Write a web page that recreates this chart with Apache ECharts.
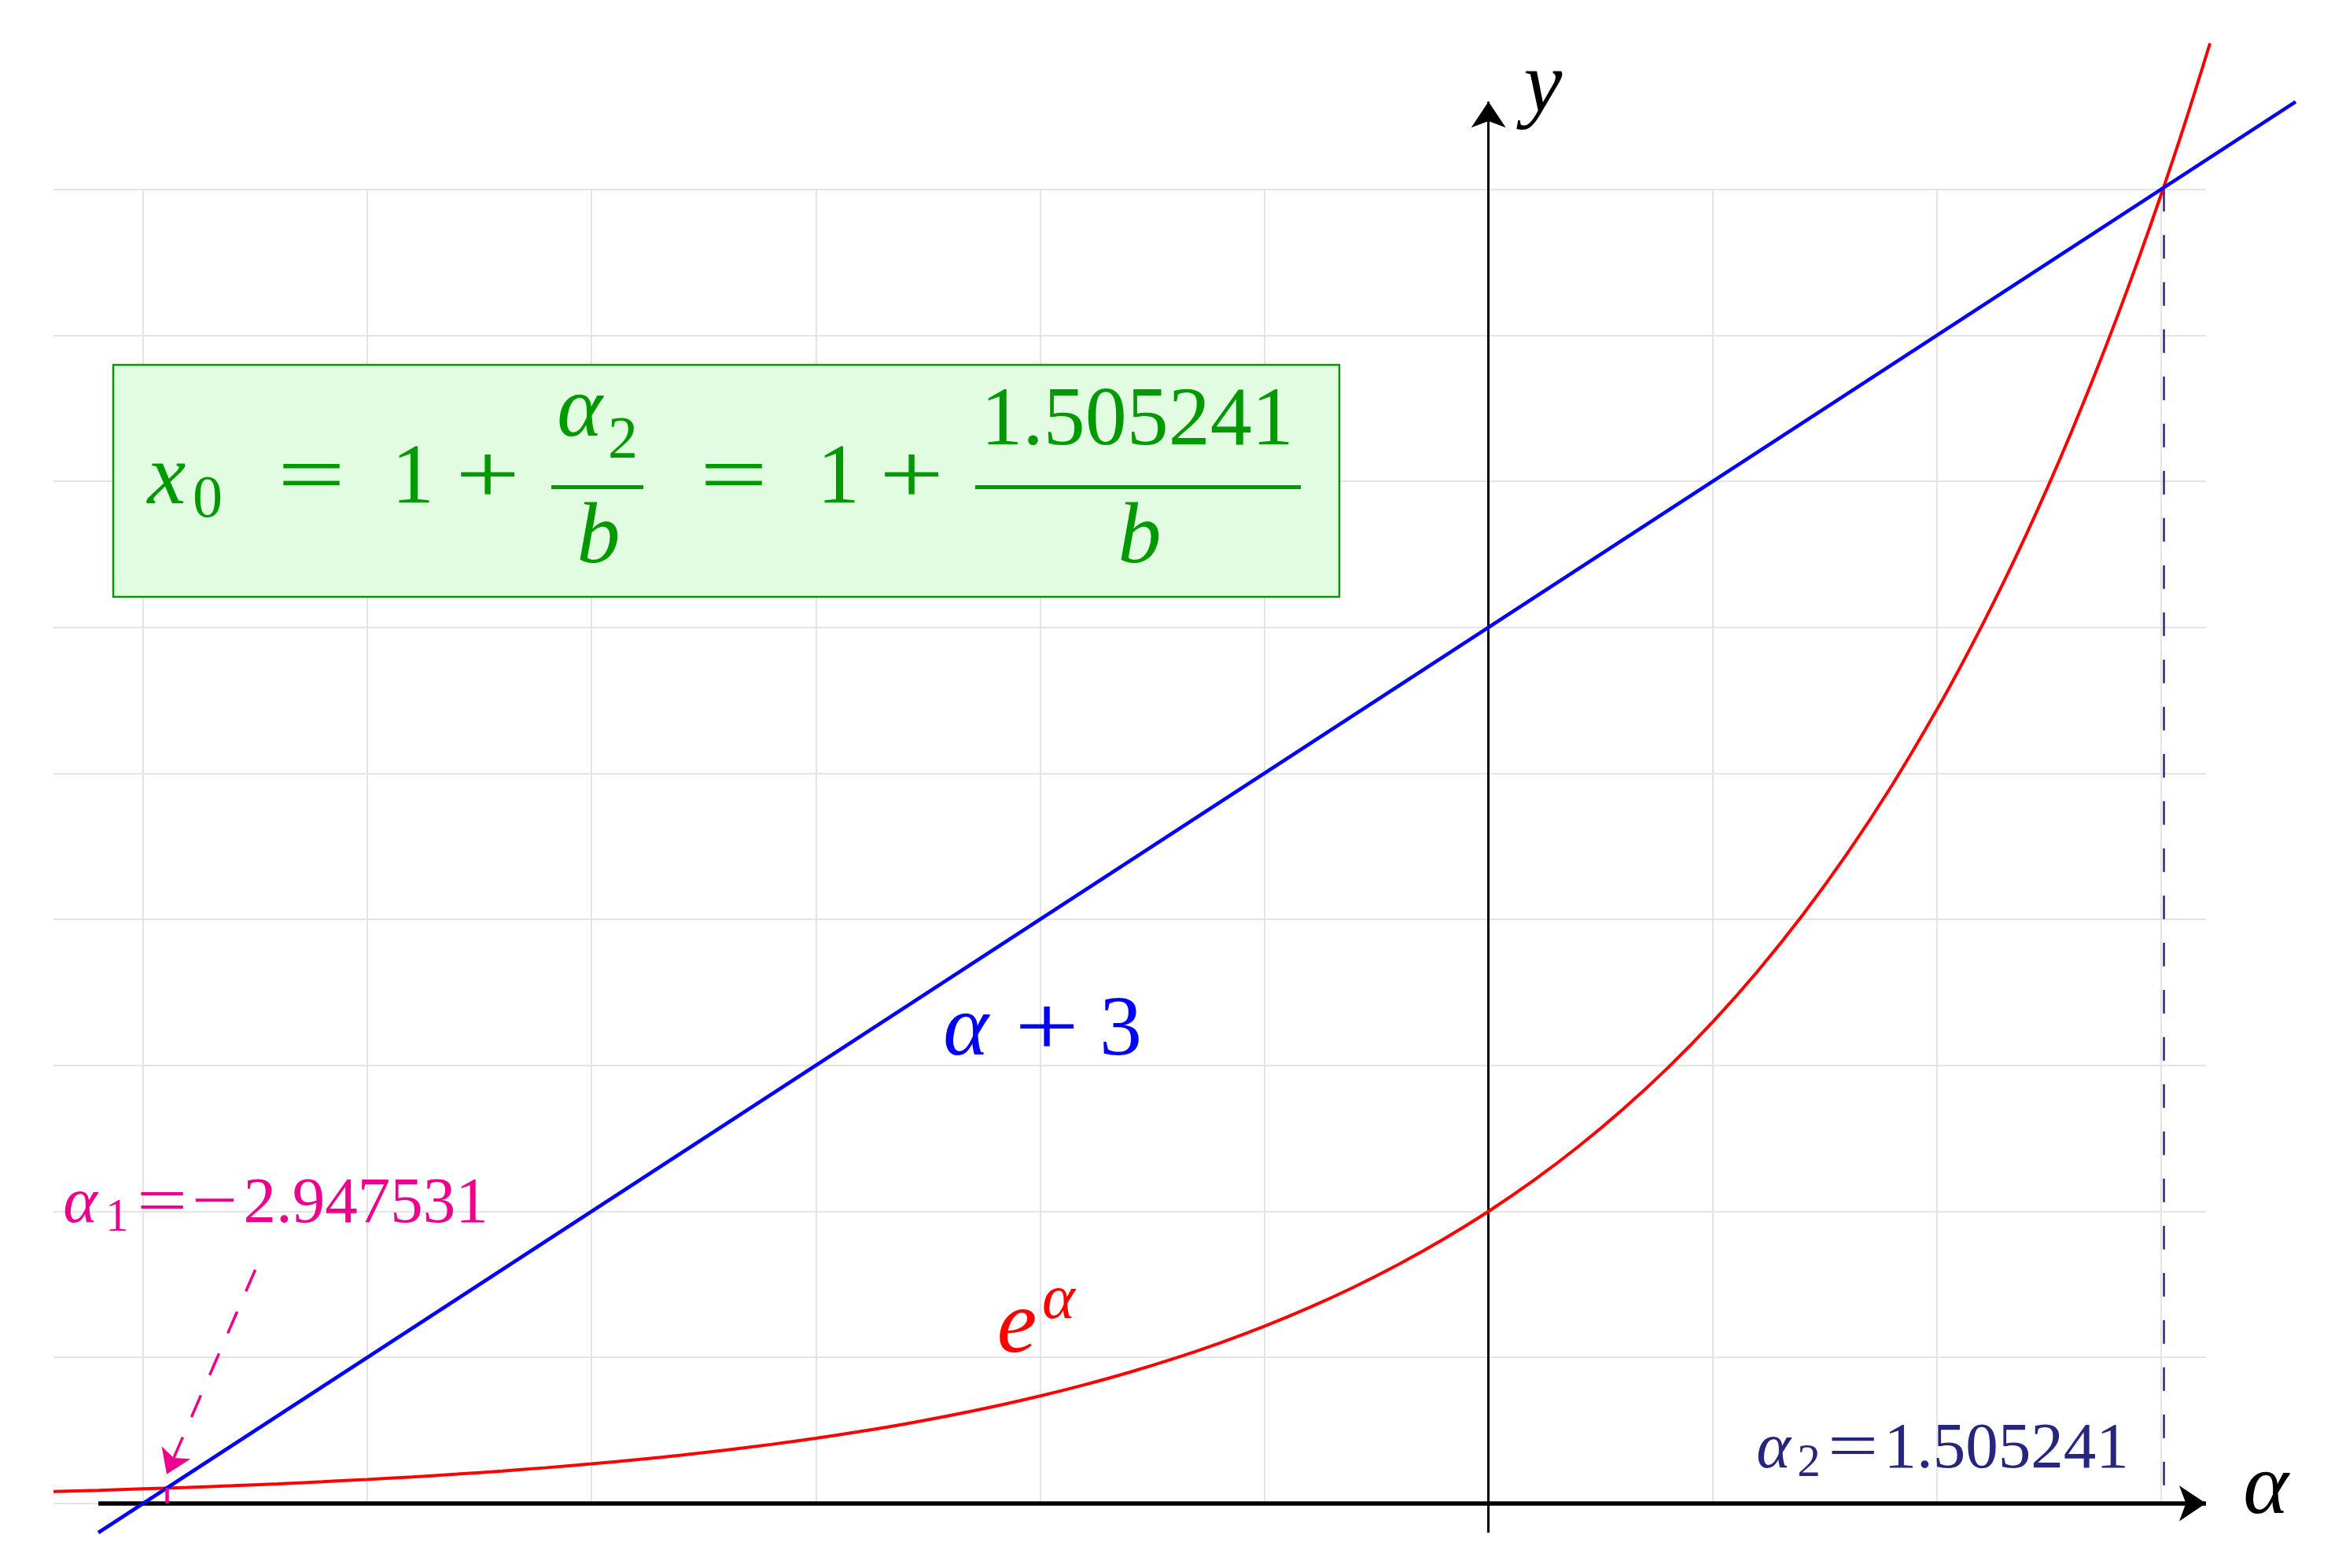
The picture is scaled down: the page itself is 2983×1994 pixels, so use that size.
<!DOCTYPE html>
<html><head><meta charset="utf-8">
<script src="https://cdn.jsdelivr.net/npm/echarts@6/dist/echarts.min.js"></script>
<style>html,body{margin:0;padding:0;background:#fff}#c{width:2983px;height:1994px}</style>
</head><body><div id="c"></div>
<script>
// ---- data ----
const gridXValues = [-3, -2.5, -2, -1.5, -1, -0.5, 0, 0.5, 1, 1.5];
const gridYValues = [0, 0.5, 1, 1.5, 2, 2.5, 3, 3.5, 4, 4.5];
const gridXRange = [-3.2, 1.6];
const gridYRange = [0, 4.5];

// red curve e^alpha
const expAlpha  = [-3.2, -3.1, -3.0, -2.9, -2.8, -2.7, -2.6, -2.5, -2.4, -2.3, -2.2, -2.1, -2.0, -1.9, -1.8, -1.7, -1.6, -1.5, -1.4, -1.3, -1.2, -1.1, -1.0, -0.9, -0.8, -0.7, -0.6, -0.5, -0.4, -0.3, -0.2, -0.1, 0.0, 0.1, 0.2, 0.3, 0.4, 0.5, 0.6, 0.7, 0.8, 0.9, 1.0, 1.05, 1.1, 1.15, 1.2, 1.25, 1.3, 1.35, 1.4, 1.45, 1.5, 1.55, 1.609];
const expValues = [0.0408, 0.0450, 0.0498, 0.0550, 0.0608, 0.0672, 0.0743, 0.0821, 0.0907, 0.1003, 0.1108, 0.1225, 0.1353, 0.1496, 0.1653, 0.1827, 0.2019, 0.2231, 0.2466, 0.2725, 0.3012, 0.3329, 0.3679, 0.4066, 0.4493, 0.4966, 0.5488, 0.6065, 0.6703, 0.7408, 0.8187, 0.9048, 1.0, 1.1052, 1.2214, 1.3499, 1.4918, 1.6487, 1.8221, 2.0138, 2.2255, 2.4596, 2.7183, 2.8577, 3.0042, 3.1582, 3.3201, 3.4903, 3.6693, 3.8574, 4.0552, 4.2631, 4.4817, 4.7115, 5.0];

// blue line alpha + 3
const lineAlpha  = [-3.1, 1.8];
const lineValues = [-0.1, 4.8];

// roots
const alpha1 = -2.947531, alpha1Height = 0.0525;
const alpha2 = 1.505241, alpha2Height = 4.505;

// axes
const xAxisSpan = [-3.1, 1.6];
const yAxisSpan = [-0.1, 4.8];

// magenta pointer
const pointerFrom = [-2.75, 0.8];
const pointerTo = [-2.9475, 0.1];

// ---- chart ----
const GREEN = '#009a00', MAG = '#ec008c', NAVY = '#26267f';
const gridLines = [];
gridXValues.forEach(x => gridLines.push({coords: [[x, gridYRange[0]], [x, gridYRange[1]]]}));
gridYValues.forEach(y => gridLines.push({coords: [[gridXRange[0], y], [gridXRange[1], y]]}));

function T(text, cx, base, size, color, italic, sx) {
  return {
    type: 'text', x: cx, y: base - 0.34 * size, scaleX: sx || 1, z: 60,
    style: {
      text: text, x: 0, y: 0, align: 'center', verticalAlign: 'middle',
      fontSize: size, fontFamily: '"Liberation Serif"', fontStyle: italic ? 'italic' : 'normal',
      fill: color
    }
  };
}

const chart = echarts.init(document.getElementById('c'), null, {renderer: 'canvas'});
const option = {
  animation: false,
  backgroundColor: '#ffffff',
  grid: {left: 68, top: 55, width: 2851, height: 1894, containLabel: false},
  xAxis: {type: 'value', min: -3.2, max: 1.8, show: false},
  yAxis: {type: 'value', min: -0.1, max: 5.0, show: false},
  series: [
    {type: 'lines', coordinateSystem: 'cartesian2d', silent: true, z: 1,
     lineStyle: {color: '#e4e4e4', width: 2, opacity: 1}, data: gridLines},
    {type: 'lines', coordinateSystem: 'cartesian2d', silent: true, z: 2,
     lineStyle: {color: NAVY, width: 2.5, type: [30, 30], opacity: 1},
     data: [{coords: [[alpha2, alpha2Height], [alpha2, 0]]}]},
    {type: 'lines', coordinateSystem: 'cartesian2d', silent: true, z: 3,
     symbol: ['none', 'arrow'], symbolSize: 34,
     lineStyle: {color: '#000', width: 5.5, opacity: 1},
     data: [{coords: [[xAxisSpan[0], 0], [xAxisSpan[1], 0]]}]},
    {type: 'lines', coordinateSystem: 'cartesian2d', silent: true, z: 3,
     symbol: ['none', 'arrow'], symbolSize: 33,
     lineStyle: {color: '#000', width: 3, opacity: 1},
     data: [{coords: [[0, yAxisSpan[0]], [0, yAxisSpan[1]]]}]},
    {type: 'line', silent: true, z: 4, clip: false, smooth: 0.4, showSymbol: false,
     lineStyle: {color: '#ff0000', width: 4},
     data: expAlpha.map((a, i) => [a, expValues[i]])},
    {type: 'line', silent: true, z: 5, clip: false, showSymbol: false,
     lineStyle: {color: '#0000ff', width: 4.5},
     data: lineAlpha.map((a, i) => [a, lineValues[i]])},
    {type: 'lines', coordinateSystem: 'cartesian2d', silent: true, z: 6,
     lineStyle: {color: MAG, width: 4.5, opacity: 1},
     data: [{coords: [[alpha1, 0], [alpha1, alpha1Height]]}]},
    {type: 'lines', coordinateSystem: 'cartesian2d', silent: true, z: 6,
     symbol: ['none', 'arrow'], symbolSize: 30,
     lineStyle: {color: MAG, width: 3.5, type: [30, 28], opacity: 1},
     data: [{coords: [pointerFrom, pointerTo]}]}
  ],
  graphic: [
    {type: 'rect', z: 50, shape: {x: 144, y: 464, width: 1559, height: 295},
     style: {fill: '#e2fce2', stroke: GREEN, lineWidth: 2.5}},
    // formula
    T('x', 212, 648, 110, GREEN, true),
    T('0', 264, 663, 76, GREEN, false),
    T('=', 396, 647, 108, GREEN, false, 1.42),
    T('1', 525, 647, 108, GREEN, false),
    T('+', 620, 647, 108, GREEN, false, 1.35),
    {type: 'rect', z: 60, shape: {x: 701, y: 617, width: 117, height: 5}, style: {fill: GREEN}},
    T('α', 737, 562, 110, GREEN, true),
    T('2', 792, 588, 76, GREEN, false),
    T('b', 761, 723, 110, GREEN, true),
    T('=', 933, 647, 108, GREEN, false, 1.42),
    T('1', 1066, 647, 108, GREEN, false),
    T('+', 1159, 647, 108, GREEN, false, 1.35),
    {type: 'rect', z: 60, shape: {x: 1240, y: 617, width: 414, height: 5}, style: {fill: GREEN}},
    T('1.505241', 1446, 573, 106, GREEN, false),
    T('b', 1449, 723, 110, GREEN, true),
    // axis names
    T('y', 1962, 150, 110, '#000', true),
    T('α', 2881, 1932, 110, '#000', true),
    // alpha1 label
    T('α', 102, 1560, 83, MAG, true),
    T('1', 149, 1570, 59, MAG, false),
    T('=', 206, 1560, 83, MAG, false, 1.38),
    T('−', 273, 1560, 83, MAG, false, 1.25),
    T('2.947531', 465, 1560, 83, MAG, false),
    // alpha2 label
    T('α', 2255, 1872, 83, NAVY, true),
    T('2', 2300, 1882, 59, NAVY, false),
    T('=', 2356, 1872, 83, NAVY, false, 1.38),
    T('1.505241', 2551, 1872, 83, NAVY, false),
    // curve labels
    T('α', 1228, 1349, 110, '#0000ff', true),
    T('+', 1331, 1349, 108, '#0000ff', false, 1.35),
    T('3', 1425, 1349, 108, '#0000ff', false),
    T('e', 1293, 1728, 114, '#ff0000', true),
    T('α', 1346, 1682, 80, '#ff0000', true)
  ]
};
chart.setOption(option);
</script></body></html>
